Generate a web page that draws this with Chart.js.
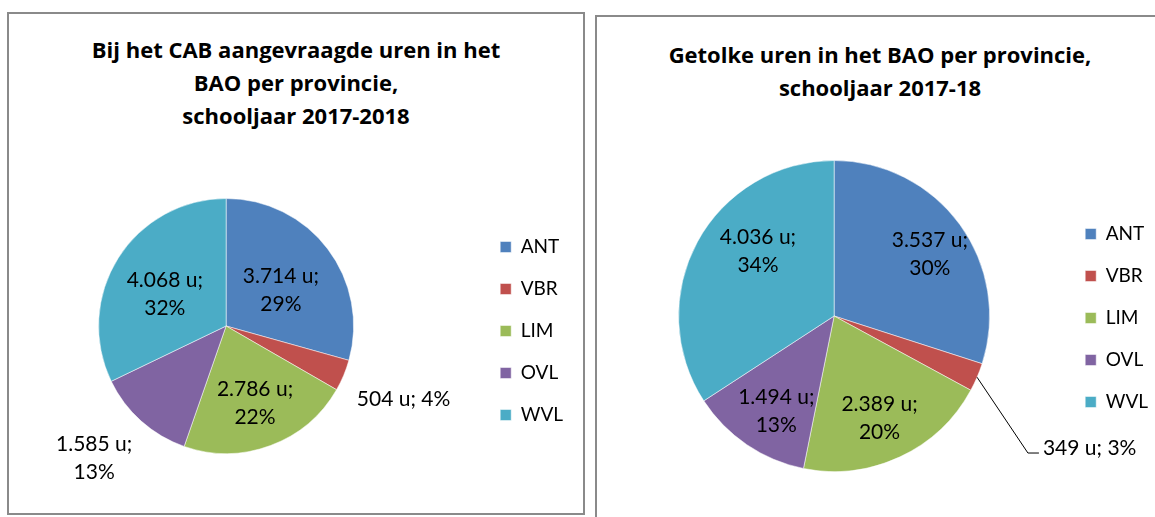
<!DOCTYPE html>
<html>
<head>
<meta charset="utf-8">
<script src="https://cdn.jsdelivr.net/npm/chart.js@4/dist/chart.umd.min.js"></script>
<style>
  body { margin: 0; width: 1155px; height: 517px; overflow: hidden; background: #fff; position: relative; font-family: Lato, sans-serif; }
  .box { position: absolute; border: 2px solid #8a8a8a; box-sizing: border-box; }
  #boxL { left: 7px; top: 12px; width: 578px; height: 503px; }
  #boxR { left: 595px; top: 15px; width: 620px; height: 560px; }
  .title { position: absolute; font-family: "Open Sans", sans-serif; font-weight: bold; font-size: 22px; line-height: 33px; text-align: center; color: #000; }
  #titleL { left: 7px; top: 33px; width: 578px; }
  #titleR { left: 595px; top: 38px; width: 570px; }
  canvas { position: absolute; top: 0; }
  #pieL { left: -25px; }
  #pieR { left: 606px; }
</style>
</head>
<body>
<div class="box" id="boxL"></div>
<div class="box" id="boxR"></div>
<div class="title" id="titleL">Bij het CAB aangevraagde uren in het<br>BAO per provincie,<br>schooljaar 2017-2018</div>
<div class="title" id="titleR">Getolke uren in het BAO per provincie,<br>schooljaar 2017-18</div>
<canvas id="pieL" width="600" height="517"></canvas>
<canvas id="pieR" width="553" height="517"></canvas>
<script>
// Data
const provinces = ['ANT', 'VBR', 'LIM', 'OVL', 'WVL'];
const provinceColors = ['#4F81BD', '#C0504D', '#9BBB59', '#8064A2', '#4BACC6'];
const requestedHours = [3714, 504, 2786, 1585, 4068];   // aangevraagd bij CAB
const interpretedHours = [3537, 349, 2389, 1494, 4036]; // getolkt

// label placement: f = fraction of radius along the slice middle, dx/dy nudge
const placeLeft = [
    { f: 0.51, dx: 3, dy: 4 },
    { f: 1.51, dx: 0, dy: -1, oneLine: true },
    { f: 0.65, dx: 0, dy: 0 },
    { f: 1.46, dx: -8, dy: -7 },
    { f: 0.54, dx: -3, dy: 5 }
];
const placeRight = [
    { f: 0.73, dx: 4, dy: 5 },
    { f: 1.83, dx: -6, dy: 20, oneLine: true, leader: true },
    { f: 0.72, dx: -2, dy: 1 },
    { f: 0.72, dx: 5, dy: 3 },
    { f: 0.63, dx: 10, dy: -18 }
];

const fmtHours = v => v.toString().replace(/\B(?=(\d{3})+(?!\d))/g, '.') + ' u;';

function makeLabelPlugin(place) {
    return {
        id: 'pieLabels',
        afterDatasetsDraw(chart) {
            const ctx = chart.ctx;
            const values = chart.data.datasets[0].data;
            const total = values.reduce((a, b) => a + b, 0);
            ctx.save();
            ctx.font = '21px Lato';
            ctx.fillStyle = '#000';
            ctx.strokeStyle = '#000';
            ctx.lineWidth = 1;
            ctx.textAlign = 'center';
            ctx.textBaseline = 'middle';
            chart.getDatasetMeta(0).data.forEach((arc, i) => {
                const p = place[i];
                const { x, y, startAngle, endAngle, outerRadius } =
                    arc.getProps(['x', 'y', 'startAngle', 'endAngle', 'outerRadius'], true);
                const mid = (startAngle + endAngle) / 2;
                const lx = x + Math.cos(mid) * outerRadius * p.f + p.dx;
                const ly = y + Math.sin(mid) * outerRadius * p.f + p.dy;
                const valText = fmtHours(values[i]);
                const pctText = Math.round(values[i] / total * 100) + '%';
                if (p.oneLine) {
                    const txt = valText + ' ' + pctText;
                    ctx.fillText(txt, lx, ly);
                    if (p.leader) {
                        const w = ctx.measureText(txt).width;
                        const tx = lx - w / 2;
                        ctx.beginPath();
                        ctx.moveTo(x + Math.cos(mid) * outerRadius, y + Math.sin(mid) * outerRadius);
                        ctx.lineTo(tx - 15, ly + 5);
                        ctx.lineTo(tx - 4, ly + 5);
                        ctx.stroke();
                    }
                } else {
                    ctx.fillText(valText, lx, ly - 14);
                    ctx.fillText(pctText, lx, ly + 14);
                }
            });
            ctx.restore();
        }
    };
}

function makePie(canvasId, values, place, padding, legendShift) {
    return new Chart(document.getElementById(canvasId), {
        type: 'pie',
        data: {
            labels: provinces,
            datasets: [{
                data: values,
                backgroundColor: provinceColors,
                borderColor: 'rgba(255, 255, 255, 0.5)',
                borderWidth: 1
            }]
        },
        options: {
            responsive: false,
            animation: false,
            layout: { padding: padding },
            plugins: {
                tooltip: { enabled: false },
                legend: {
                    position: 'right',
                    // empty title only nudges the items down a little
                    title: { display: true, text: '', padding: 0, font: { size: legendShift, lineHeight: 1 } },
                    labels: {
                        boxWidth: 11,
                        boxHeight: 11,
                        padding: 23,
                        color: '#000',
                        font: { family: 'Lato', size: 19 }
                    }
                }
            }
        },
        plugins: [makeLabelPlugin(place)]
    });
}

makePie('pieL', requestedHours, placeLeft, { left: 0, right: 2, top: 198, bottom: 63 }, 10);
makePie('pieR', interpretedHours, placeRight, { left: 0, right: 1, top: 160, bottom: 45 }, 4);
</script>
</body>
</html>
